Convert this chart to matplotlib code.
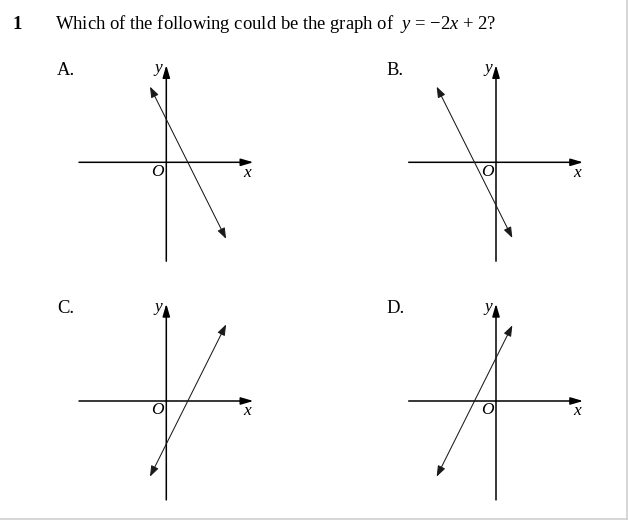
import matplotlib.pyplot as plt
from matplotlib.lines import Line2D
import numpy as np

plt.rcParams['font.family'] = ['Liberation Serif', 'DejaVu Serif']
plt.rcParams['mathtext.fontset'] = 'custom'
plt.rcParams['mathtext.rm'] = 'Liberation Serif'
plt.rcParams['mathtext.it'] = 'Liberation Serif:italic'

# data: one line per option, y = m*x + b drawn between x_start and x_end
labels = ['A.', 'B.', 'C.', 'D.']
slopes = [-2, -2, 2, 2]
intercepts = [2, -2, -2, 2]
x_start = [-0.76, -2.76, -0.76, -2.76]
x_end = [2.78, 0.76, 2.78, 0.76]

# axis extents (in graph units)
x_axis = (-4.06, 4.05)
y_axis = (-4.6, 4.52)

W, H = 628, 520
unit = 21.5  # pixels per unit
origins = [(166.3, 162.3), (496, 162.3), (166.3, 401), (496, 401)]
xlim = (-4.5, 4.5)
ylim = (-5, 5)

fig = plt.figure(figsize=(W / 100, H / 100), dpi=100)

fig.text(12 / W, 1 - 29 / H, '1', fontsize=13.4, fontweight='bold', va='baseline')
fig.text(55 / W, 1 - 29 / H,
         'Which of the following could be the graph of  $y$ = \u22122$x$ + 2?',
         fontsize=13.4, va='baseline')

for i in range(4):
    ox, oy = origins[i]
    wpx = (xlim[1] - xlim[0]) * unit
    hpx = (ylim[1] - ylim[0]) * unit
    left = ox + xlim[0] * unit
    top = oy - ylim[1] * unit
    ax = fig.add_axes([left / W, 1 - (top + hpx) / H, wpx / W, hpx / H])
    ax.set_xlim(xlim)
    ax.set_ylim(ylim)
    ax.axis('off')

    axis_arrow = dict(arrowstyle='-|>,head_length=0.75,head_width=0.22',
                      lw=1.1, color='black', mutation_scale=10,
                      shrinkA=0, shrinkB=0)
    ax.annotate('', xy=(x_axis[1], 0), xytext=(x_axis[0], 0), arrowprops=axis_arrow)
    ax.annotate('', xy=(0, y_axis[1]), xytext=(0, y_axis[0]), arrowprops=axis_arrow)

    xs = np.array([x_start[i], x_end[i]])
    ys = slopes[i] * xs + intercepts[i]
    ax.annotate('', xy=(xs[1], ys[1]), xytext=(xs[0], ys[0]),
                arrowprops=dict(arrowstyle='<|-|>,head_length=0.65,head_width=0.24',
                                lw=0.75, color='#1a1a1a', mutation_scale=10,
                                shrinkA=0, shrinkB=0))

    ax.text(-0.37, 4.37, 'y', fontsize=12.5, fontstyle='italic', ha='center', va='center')
    ax.text(-0.42, -0.44, 'O', fontsize=12.5, fontstyle='italic', ha='center', va='center')
    ax.text(3.77, -0.48, 'x', fontsize=12.5, fontstyle='italic', ha='center', va='center')
    ax.text(-5.08, 4.29, labels[i], fontsize=13.4, ha='left', va='center')

# light page border on right and bottom
fig.add_artist(Line2D([1 - 0.7 / W, 1 - 0.7 / W], [0, 1], color='#d0d0d0', lw=1.2))
fig.add_artist(Line2D([0, 1], [1.2 / H, 1.2 / H], color='#d0d0d0', lw=1.2))

fig.savefig('out.png', dpi=100)
